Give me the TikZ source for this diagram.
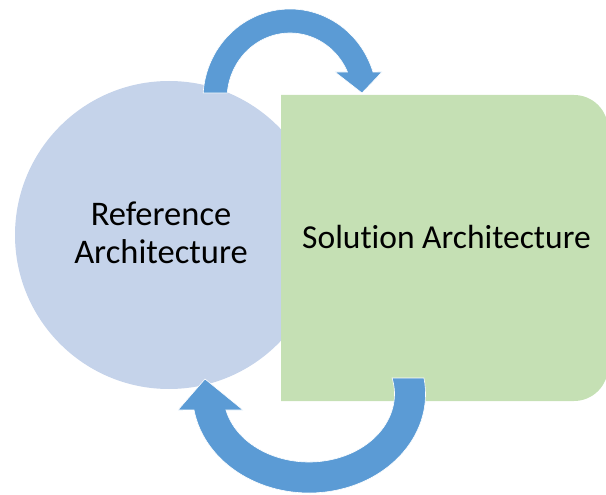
\documentclass[tikz,border=0pt]{standalone}
\usepackage{fontspec}
\setmainfont{Carlito}[Ligatures=NoCommon]
\definecolor{refblue}{HTML}{C5D3EA}
\definecolor{solgreen}{HTML}{C5E0B4}
\definecolor{arrowblue}{HTML}{5B9BD5}
\tikzset{
  label text/.style={font=\fontsize{34.5}{40}\selectfont, text=black, inner sep=0pt},
  cycle arrow/.style={fill=arrowblue, draw=white, line width=0.6pt, line join=miter},
}
\begin{document}
\begin{tikzpicture}[x=1pt,y=1pt]
\useasboundingbox (0,0) rectangle (606,-495);
\clip (0,0) rectangle (606,-495);

% reference architecture: the circle
\node[circle, fill=refblue, minimum size=308pt, inner sep=0pt] (refcircle) at (169,-235) {};
\node[label text, anchor=base] (reftop) at (161,-225) {Reference};
\node[label text, anchor=base] (refbot) at (161,-263) {Architecture};

% solution architecture: rectangle rounded on its right side
\fill[solgreen] (281,-95) -- (574,-95) arc[start angle=90, end angle=0, radius=34pt]
  -- (608,-367) arc[start angle=0, end angle=-90, radius=34pt] -- (281,-401) -- cycle;
\node[label text, font=\fontsize{33.5}{40}\selectfont, anchor=base] (sol) at (446.5,-248) {Solution Architecture};

% upper curved arrow, from the circle over to the rectangle
\path[cycle arrow] (203.19,-93.04)
  arc[start angle=176.2, end angle=17.46, x radius=87pt, y radius=90pt]
  -- (382,-72) -- (362,-93) -- (335,-72) -- (347.48,-72)
  arc[start angle=24.15, end angle=174.8, x radius=63pt, y radius=66pt]
  -- cycle;

% lower curved arrow, from the rectangle back to the circle
\path[cycle arrow] (423.97,-378)
  arc[start angle=9.3, end angle=-170.7, x radius=116.5pt, y radius=99pt]
  -- (178,-410) -- (205,-379) -- (243,-410) -- (225.9,-410)
  arc[start angle=-166.4, end angle=13.6, x radius=85.5pt, y radius=68pt]
  -- cycle;
\end{tikzpicture}
\end{document}
